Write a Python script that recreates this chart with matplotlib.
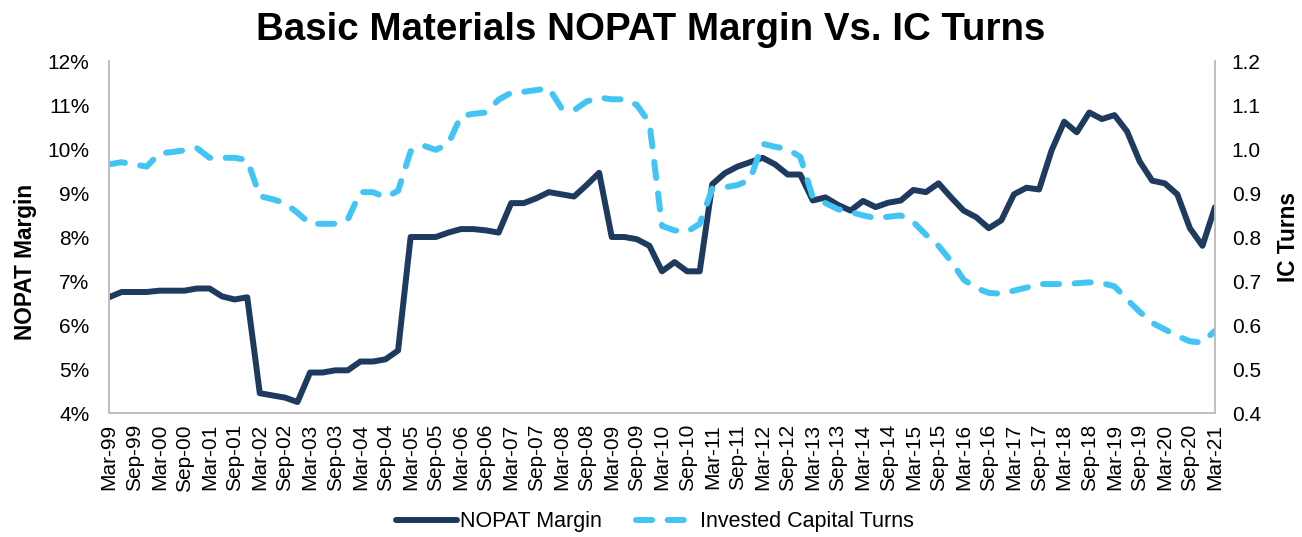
import pandas as pd
import numpy as np
import matplotlib
matplotlib.use('Agg')
import matplotlib.pyplot as plt

plt.rcParams['font.family'] = ['Liberation Sans', 'DejaVu Sans']

# Quarterly data, Mar-99 .. Mar-21
quarters = pd.date_range('1999-03-31', '2021-03-31', freq='QE')
quarter_labels = [d.strftime('%b-%y') for d in quarters]

# NOPAT margin (%)
nopat_margin = [
    6.63, 6.75, 6.75, 6.75, 6.78, 6.78, 6.78, 6.83, 6.83, 6.65, 6.58, 6.63,
    4.45, 4.40, 4.35, 4.25, 4.92, 4.92, 4.97, 4.97, 5.17, 5.17, 5.22, 5.42,
    8.00, 8.00, 8.00, 8.10, 8.18, 8.18, 8.15, 8.10, 8.77, 8.77, 8.88, 9.02,
    8.97, 8.92, 9.18, 9.46, 8.00, 8.00, 7.95, 7.80, 7.22, 7.43, 7.22, 7.22,
    9.20, 9.45, 9.60, 9.70, 9.80, 9.65, 9.42, 9.42, 8.83, 8.90, 8.73, 8.60,
    8.82, 8.68, 8.78, 8.83, 9.07, 9.02, 9.22, 8.90, 8.60, 8.45, 8.20, 8.38,
    8.97, 9.12, 9.08, 9.97, 10.62, 10.38, 10.83, 10.68, 10.77, 10.40, 9.72, 9.28,
    9.22, 8.97, 8.20, 7.80, 8.68,
]

# Invested capital turns
ic_turns = [
    0.965, 0.970, 0.965, 0.960, 0.990, 0.993, 0.997, 1.002, 0.980, 0.980, 0.980, 0.975,
    0.893, 0.886, 0.877, 0.855, 0.830, 0.830, 0.830, 0.840, 0.902, 0.902, 0.890, 0.905,
    0.995, 1.008, 0.998, 1.012, 1.075, 1.080, 1.083, 1.112, 1.128, 1.130, 1.134, 1.138,
    1.093, 1.088, 1.108, 1.117, 1.113, 1.113, 1.100, 1.060, 0.825, 0.815, 0.812, 0.830,
    0.910, 0.913, 0.918, 0.930, 1.012, 1.005, 1.000, 0.982, 0.890, 0.877, 0.863, 0.857,
    0.849, 0.843, 0.846, 0.849, 0.834, 0.805, 0.780, 0.745, 0.703, 0.684, 0.673, 0.671,
    0.678, 0.685, 0.693, 0.693, 0.693, 0.695, 0.697, 0.695, 0.688, 0.658, 0.630, 0.605,
    0.590, 0.575, 0.563, 0.560, 0.587,
]

navy = '#1F3A5F'
sky = '#42C5F4'
spine_grey = '#BFBFBF'

x = np.arange(len(quarter_labels))

fig = plt.figure(figsize=(13.02, 5.37), dpi=100)
ax = fig.add_axes([0.0837, 0.2309, 0.8495, 0.6555])
ax2 = ax.twinx()

l1, = ax.plot(x, nopat_margin, color=navy, lw=4.3, solid_joinstyle='round',
              solid_capstyle='round', label='NOPAT Margin')
l2, = ax2.plot(x, ic_turns, color=sky, lw=4.3, linestyle=(0, (2.7, 2.6)),
               dash_capstyle='round', dash_joinstyle='round',
               label='Invested Capital Turns')

ax.set_xlim(0, len(x) - 1)
ax.set_ylim(4, 12)
ax2.set_ylim(0.4, 1.2)
ax.set_yticks(np.arange(4, 13, 1))
ax.set_yticklabels([f'{v}%' for v in range(4, 13)])
ax2.set_yticks(np.arange(0.4, 1.21, 0.1))
ax2.set_yticklabels([f'{v:.1f}' for v in np.arange(0.4, 1.21, 0.1)])

ax.set_xticks(x[::2])
ax.set_xticklabels(quarter_labels[::2], rotation=90)

ax.tick_params(axis='y', length=0, pad=14, labelsize=15)
ax2.tick_params(axis='y', length=0, pad=12, labelsize=15)
ax.tick_params(axis='x', length=0, pad=8, labelsize=15)

for a in (ax, ax2):
    a.spines['top'].set_visible(False)
    for s in ('left', 'right', 'bottom'):
        a.spines[s].set_color(spine_grey)
        a.spines[s].set_linewidth(1.2)

ax.set_ylabel('NOPAT Margin', fontsize=16.3, fontweight='bold')
ax.yaxis.set_label_coords(-0.065, 0.43)
ax2.set_ylabel('IC Turns', fontsize=16.3, fontweight='bold', labelpad=12)

fig.suptitle('Basic Materials NOPAT Margin Vs. IC Turns', fontsize=27.7,
             fontweight='bold', y=0.978)

fig.legend(handles=[l1, l2], loc='center', bbox_to_anchor=(0.503, 0.028),
           ncol=2, frameon=False, fontsize=15.5, handlelength=2.8,
           columnspacing=1.6, handletextpad=0.15)

fig.savefig('out.png', dpi=100)
